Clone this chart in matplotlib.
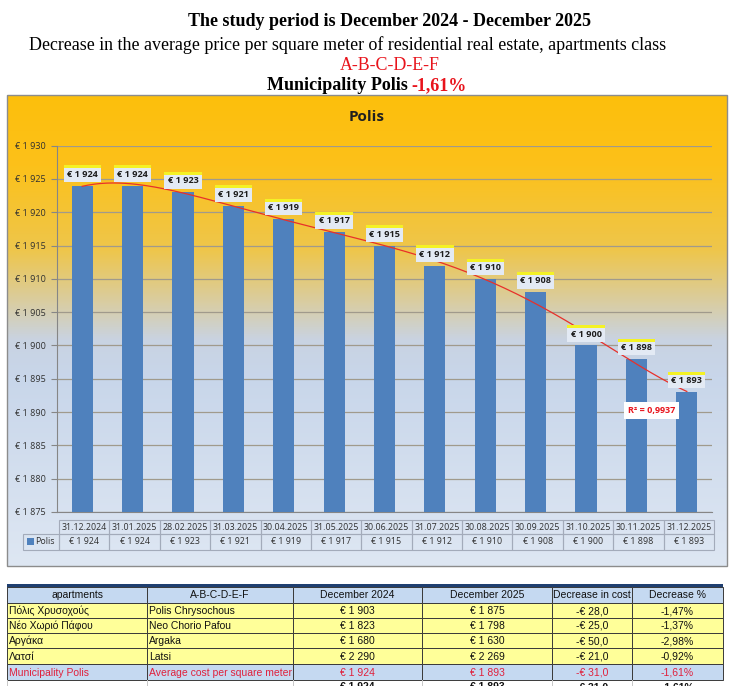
import numpy as np
import matplotlib.pyplot as plt
from matplotlib.patches import Rectangle
from matplotlib.colors import LinearSegmentedColormap

# chart data
dates = ['31.12.2024', '31.01.2025', '28.02.2025', '31.03.2025', '30.04.2025',
         '31.05.2025', '30.06.2025', '31.07.2025', '30.08.2025', '30.09.2025',
         '31.10.2025', '30.11.2025', '31.12.2025']
prices = [1924, 1924, 1923, 1921, 1919, 1917, 1915, 1912, 1910, 1908, 1900, 1898, 1893]
series_name = 'Polis'
y_ticks = [1875, 1880, 1885, 1890, 1895, 1900, 1905, 1910, 1915, 1920, 1925, 1930]
r2_label = 'R² = 0,9937'

# summary table data
table_header = ['apartments', 'A-B-C-D-E-F', 'December 2024', 'December 2025',
                'Decrease in cost', 'Decrease %']
names_gr = ['Πόλις Χρυσοχούς', 'Νέο Χωριό Πάφου', 'Αργάκα', 'Λατσί']
names_en = ['Polis Chrysochous', 'Neo Chorio Pafou', 'Argaka', 'Latsi']
dec_2024 = [1903, 1823, 1680, 2290]
dec_2025 = [1875, 1798, 1630, 2269]
cost_diff = [-28.0, -25.0, -50.0, -21.0]
pct_diff = [-1.47, -1.37, -2.98, -0.92]
muni_name = 'Municipality Polis'
muni_desc = 'Average cost per square meter'
muni_2024 = 1924
muni_2025 = 1893
muni_cost = -31.0
muni_pct = -1.61

W, H = 731, 686


def euro(v):
    return '€ ' + f'{v:,}'.replace(',', ' ')


def cost(v):
    return ('-' if v < 0 else '') + '€ ' + f'{abs(v):.1f}'.replace('.', ',')


def pct(v):
    return f'{v:.2f}'.replace('.', ',') + '%'


def box(x0, y0, x1, y1):
    # pixel box (top-left origin) -> figure fraction
    return [x0 / W, 1 - y1 / H, (x1 - x0) / W, (y1 - y0) / H]


fig = plt.figure(figsize=(W / 100, H / 100), dpi=100)
page = fig.add_axes([0, 0, 1, 1])
page.set_axis_off()

serif = ['Liberation Serif', 'DejaVu Serif']
chart_font = ['Open Sans', 'DejaVu Sans']
cell_font = ['Liberation Sans Narrow', 'Liberation Sans', 'DejaVu Sans']
cell_size = 7.5

# ---- headings ----
page.text(390, 22, 'The study period is December 2024 - December 2025', ha='center', va='center',
          fontsize=13, fontweight='bold', family=serif)
page.text(348, 45, 'Decrease in the average price per square meter of residential real estate, apartments class',
          ha='center', va='center', fontsize=12.9, family=serif)
page.text(390, 66, 'A-B-C-D-E-F', ha='center', va='center', fontsize=12.9, color='#E8141C', family=serif)
page.text(408, 86, 'Municipality Polis', ha='right', va='center', fontsize=13, fontweight='bold', family=serif)
page.text(411, 86, pct(muni_pct), ha='left', va='center', fontsize=13, fontweight='bold',
          color='#E8141C', family=serif)

# ---- chart background gradient ----
grad = LinearSegmentedColormap.from_list('bg', [
    (0.0, '#FDBF0C'), (0.15, '#FCC11A'), (0.33, '#EEC64C'),
    (0.44, '#D9CDA2'), (0.52, '#C9D3E2'), (0.60, '#C8D6EA'), (1.0, '#DEE7F3')])
g = np.linspace(0, 1, 256).reshape(-1, 1)
page.imshow(g, cmap=grad, extent=(7, 727, 566, 95), aspect='auto', origin='upper')
page.add_patch(Rectangle((7, 95), 720, 471, fill=False, ec='#8C8C8C', lw=1))
page.text(367, 117, series_name, ha='center', va='center', fontsize=11, fontweight='bold',
          color='#202020', family=chart_font)

# ---- bar chart ----
ax = fig.add_axes(box(57, 145.7, 712, 512))
ax.patch.set_alpha(0)
x = np.arange(len(prices))
ax.bar(x, prices, width=0.42, color='#4F81BD', zorder=3)
ax.set_xlim(-0.5, len(prices) - 0.5)
ax.set_ylim(y_ticks[0], y_ticks[-1])
ax.set_yticks(y_ticks)
ax.set_yticklabels([euro(t) for t in y_ticks], fontsize=6.5, color='#303030', family=chart_font)
ax.set_xticks([])
ax.tick_params(axis='y', length=4, color='#868686', pad=4)
ax.grid(axis='y', color='#A09A8C', lw=0.9, zorder=1)
for s in ['top', 'right']:
    ax.spines[s].set_visible(False)
for s in ['left', 'bottom']:
    ax.spines[s].set_color('#868686')

# polynomial trend line, degree picked to match Excel's R²
best = None
for deg in range(2, 7):
    c = np.polyfit(x, prices, deg)
    fit = np.polyval(c, x)
    r2 = 1 - np.sum((np.array(prices) - fit) ** 2) / np.sum((np.array(prices) - np.mean(prices)) ** 2)
    if best is None or abs(r2 - 0.9937) < abs(best[1] - 0.9937):
        best = (c, r2)
xs = np.linspace(0, len(prices) - 1, 200)
ax.plot(xs, np.polyval(best[0], xs), color='#E8302A', lw=0.9, zorder=5)
ax.text(11.3, 1890.2, r2_label, ha='center', va='center', fontsize=6.5, fontweight='bold',
        color='#E8141C', family=chart_font, zorder=6,
        bbox=dict(boxstyle='square,pad=0.45', fc='white', ec='none'))

# data labels
for i, v in enumerate(prices):
    ax.add_patch(Rectangle((i - 0.37, v + 0.55), 0.74, 2.5, fc='#E3EAF4', ec='none', zorder=6))
    ax.add_patch(Rectangle((i - 0.37, v + 2.6), 0.74, 0.45, fc='#F4F225', ec='none', zorder=6))
    ax.text(i, v + 1.7, euro(v), ha='center', va='center', fontsize=6.6, fontweight='bold',
            color='#1E1E1E', family=chart_font, zorder=7)

# ---- data table under the chart ----
tx0, tw = 59, 655 / len(dates)
line = '#A3ABBA'
for i, d in enumerate(dates):
    cx = tx0 + i * tw
    page.add_patch(Rectangle((cx, 520), tw, 14, fill=False, ec=line, lw=0.8))
    page.add_patch(Rectangle((cx, 534), tw, 16, fill=False, ec=line, lw=0.8))
    page.text(cx + tw / 2, 527.5, d, ha='center', va='center', fontsize=6.4, color='#303030', family=chart_font)
    page.text(cx + tw / 2, 542, euro(prices[i]), ha='center', va='center', fontsize=6.4,
              color='#303030', family=chart_font)
page.add_patch(Rectangle((23, 534), tx0 - 23, 16, fill=False, ec=line, lw=0.8))
page.add_patch(Rectangle((27, 538), 7, 7, fc='#4F81BD', ec='none'))
page.text(35, 541.5, series_name, ha='left', va='center', fontsize=6.4, color='#303030', family=chart_font)

# ---- summary table ----
cols = [7, 147, 293, 422, 552, 632, 723]
rows = [587, 603, 618, 633, 648, 664, 680]
page.add_patch(Rectangle((7, 584), 716, 3.5, fc='#1F3F70', ec='none'))
body = [[names_gr[k], names_en[k], euro(dec_2024[k]), euro(dec_2025[k]), cost(cost_diff[k]), pct(pct_diff[k])]
        for k in range(len(names_gr))]
body.append([muni_name, muni_desc, euro(muni_2024), euro(muni_2025), cost(muni_cost), pct(muni_pct)])
all_rows = [table_header] + body
for r, vals in enumerate(all_rows):
    y0, y1 = rows[r], rows[r + 1]
    if r == 0 or r == len(all_rows) - 1:
        fc = '#C5D9F1'
    else:
        fc = '#FFFF99'
    color = '#E0203C' if r == len(all_rows) - 1 else '#111111'
    for c, val in enumerate(vals):
        page.add_patch(Rectangle((cols[c], y0), cols[c + 1] - cols[c], y1 - y0, fc=fc, ec='#3A3A3A', lw=0.7))
        if c < 2 and r > 0:
            page.text(cols[c] + 2, (y0 + y1) / 2 + 0.5, val, ha='left', va='center', fontsize=cell_size,
                      color=color, family=cell_font)
        else:
            page.text((cols[c] + cols[c + 1]) / 2, (y0 + y1) / 2 + 0.5, val, ha='center', va='center',
                      fontsize=cell_size, color=color, family=cell_font)
# repeated totals row, cut by the page edge
last = ['', '', euro(muni_2024), euro(muni_2025), cost(muni_cost), pct(muni_pct)]
for c, val in enumerate(last):
    page.plot([cols[c], cols[c]], [680, 686], color='#C8C8C8', lw=0.7)
    page.text((cols[c] + cols[c + 1]) / 2, 682.5, val, ha='center', va='top', fontsize=cell_size,
              fontweight='bold', color='#111111', family=cell_font)

page.set_xlim(0, W)
page.set_ylim(H, 0)

fig.savefig('out.png', dpi=100)
